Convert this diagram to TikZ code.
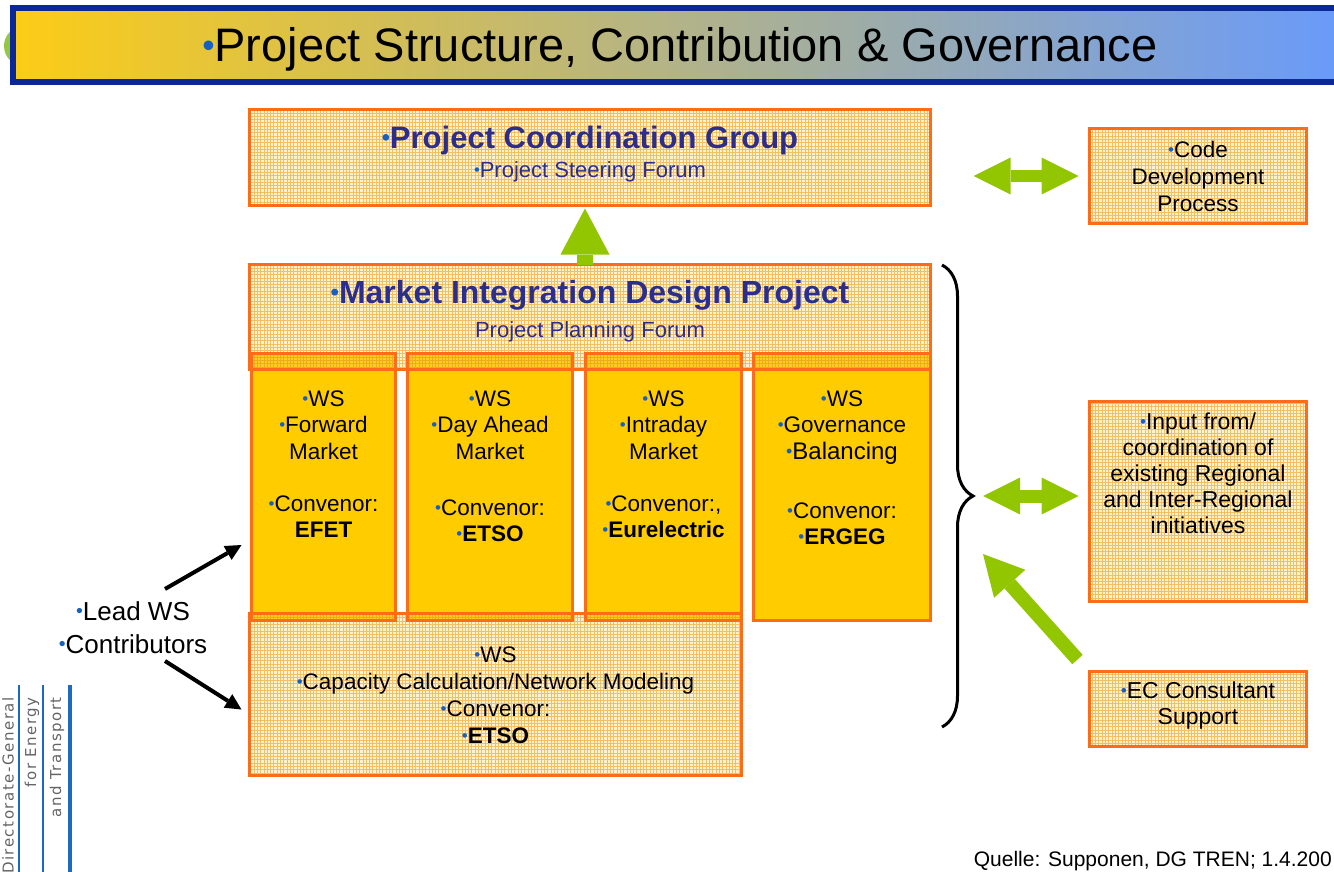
\documentclass[tikz,border=0pt]{standalone}
\usepackage{fontspec}
\usepackage{graphicx}
\setmainfont{Liberation Sans}
\newfontfamily\logofont[LetterSpace=10]{DejaVu Sans}
\usetikzlibrary{arrows.meta,patterns,decorations.pathreplacing,positioning}
\definecolor{boxorange}{RGB}{255,108,24}
\definecolor{wsyellow}{RGB}{255,204,0}
\definecolor{meshbg}{RGB}{255,242,205}
\definecolor{meshline}{RGB}{242,192,100}
\definecolor{stripbg}{RGB}{253,206,30}
\definecolor{stripline}{RGB}{236,172,30}
\definecolor{headblue}{RGB}{44,46,140}
\definecolor{bulletblue}{RGB}{24,96,190}
\definecolor{arrowgreen}{RGB}{146,198,0}
\definecolor{barblue}{RGB}{12,40,150}
\definecolor{barleft}{RGB}{252,204,22}
\definecolor{barmid}{RGB}{228,188,178}
\definecolor{barright}{RGB}{104,154,252}
\definecolor{dotgreen}{RGB}{148,200,64}
\definecolor{logoblue}{RGB}{30,105,195}
\definecolor{logogray}{RGB}{100,100,100}
\newcommand{\bdot}{{\color{bulletblue}\raisebox{0.09em}{\scalebox{0.75}{\textbullet}}}}
\pgfdeclarepatternformonly{mesh}{\pgfqpoint{-1pt}{-1pt}}{\pgfqpoint{4.3pt}{4.3pt}}{\pgfqpoint{3.3pt}{3.3pt}}{%
  \pgfsetlinewidth{0.9pt}%
  \pgfpathmoveto{\pgfqpoint{-0.5pt}{0pt}}\pgfpathlineto{\pgfqpoint{3.8pt}{0pt}}%
  \pgfpathmoveto{\pgfqpoint{0pt}{-0.5pt}}\pgfpathlineto{\pgfqpoint{0pt}{3.8pt}}%
  \pgfusepath{stroke}}
\begin{document}
\begin{tikzpicture}[x=1pt,y=-1pt,
  mesh box/.style={draw=boxorange, line width=3pt, preaction={fill=meshbg}, pattern=mesh, pattern color=meshline, inner sep=0pt, outer sep=0pt},
  ws box/.style={draw=boxorange, line width=3pt, fill=wsyellow, inner sep=0pt, outer sep=0pt},
  strip/.style={draw=boxorange, line width=3pt, preaction={fill=stripbg}, pattern=mesh, pattern color=stripline},
  txt/.style={align=center, inner sep=0pt, font=\fontsize{22.5}{26.5}\selectfont},
  gbar/.style={draw=arrowgreen, line width=#1},
  blackarrow/.style={line width=4pt, -{Triangle[length=16pt,width=16pt,line width=0pt]}},
  logo text/.style={rotate=90, anchor=east, inner sep=0pt, text=logogray, font=\logofont\fontsize{15}{15}\selectfont}]
\useasboundingbox (0,0) rectangle (1334,872);
\fill[dotgreen] (24,46) circle (20);
\shade[left color=barleft, middle color=barmid, right color=barright] (13,8) rectangle (1350,82);
\draw[barblue, line width=6pt] (13,8) rectangle (1350,82);
\node[anchor=base, inner sep=0pt, font=\fontsize{47}{50}\selectfont] (title) at (680,62) {\bdot Project Structure, Contribution \& Governance};

\node[mesh box, minimum width=681pt, minimum height=96pt] (pcg) at (590,157.5) {};
\node[anchor=base, inner sep=0pt, text=headblue, font=\fontsize{31}{36}\selectfont\bfseries] (pcgtitle) at ([yshift=-39pt]pcg.north) {\bdot Project Coordination Group};
\node[anchor=base, inner sep=0pt, text=headblue, font=\fontsize{22}{26}\selectfont] (pcgsub) at ([yshift=-68pt]pcg.north) {\bdot Project Steering Forum};

\node[mesh box, minimum width=681pt, minimum height=105pt] (midp) at (590,317) {};
\node[anchor=base, inner sep=0pt, text=headblue, font=\fontsize{32}{36}\selectfont\bfseries] (midptitle) at ([yshift=-39pt]midp.north) {\bdot Market Integration Design Project};
\node[anchor=base, inner sep=0pt, text=headblue, font=\fontsize{22}{26}\selectfont] (midpsub) at ([yshift=-73pt]midp.north) {Project Planning Forum};

\node[mesh box, minimum width=492pt, minimum height=162pt] (cap) at (495.5,694.5) {};

\node[ws box, minimum width=144pt, minimum height=267pt] (colA) at (323.5,487) {};
\node[ws box, minimum width=165pt, minimum height=267pt] (colB) at (490,487) {};
\node[ws box, minimum width=156pt, minimum height=267pt] (colC) at (663.5,487) {};
\node[ws box, minimum width=177pt, minimum height=267pt] (colD) at (842,487) {};
\foreach \c in {colA,colB,colC,colD}
  \draw[strip] (\c.north west) rectangle (\c.east |- midp.south);
\foreach \c in {colA,colB,colC}
  \draw[strip] (\c.south west) rectangle (\c.east |- cap.north);

\node[txt, below=37pt of colA.north] (wsA) {\bdot WS\\\bdot Forward\\Market\\[25.5pt]\bdot Convenor:\\\textbf{EFET}};
\node[txt, below=37pt of colB.north] (wsB) {\bdot WS\\\bdot Day Ahead\\Market\\[29.5pt]\bdot Convenor:\\\bdot\textbf{ETSO}};
\node[txt, below=37pt of colC.north] (wsC) {\bdot WS\\\bdot Intraday\\Market\\[25.5pt]\bdot Convenor:,\\\bdot\textbf{Eurelectric}};
\node[txt, below=37pt of colD.north] (wsD) {\bdot WS\\\bdot Governance\\{\fontsize{24}{26.5}\selectfont\bdot Balancing}\\[32.5pt]\bdot Convenor:\\\bdot\textbf{ERGEG}};
\node[txt, font=\fontsize{22.5}{27}\selectfont, below=33pt of cap.north] (capt) {\bdot WS\\\bdot Capacity Calculation/Network Modeling\\\bdot Convenor:\\\bdot\textbf{ETSO}};

\node[mesh box, txt, font=\fontsize{22.5}{27}\selectfont, minimum width=217pt, minimum height=95pt] (code) at (1198,176) {\bdot Code\\Development\\Process};
\node[mesh box, minimum width=217pt, minimum height=200pt] (inp) at (1198,501.5) {};
\node[txt, font=\fontsize{23}{26}\selectfont, below=11pt of inp.north] (inpt) {\bdot Input from/\\coordination of\\existing Regional\\and Inter-Regional\\initiatives};
\node[mesh box, minimum width=217pt, minimum height=75pt] (ec) at (1198,709) {};
\node[txt, font=\fontsize{23}{26}\selectfont, below=10pt of ec.north] (ect) {\bdot EC Consultant\\Support};

\coordinate (bracetop) at (942,265);
\coordinate (bracebot) at (942,727);
\coordinate (bracetip) at (973,496);
\draw[line width=3pt, decorate, decoration={brace, amplitude=31pt}] (bracetop) -- (bracebot);

\draw[gbar=16pt, -{Triangle[width=49pt,length=46pt,line width=0pt]}, shorten >=3pt] ([xshift=-5pt]midp.north) -- ([xshift=-5pt]pcg.south);
\draw[gbar=12pt, {Triangle[width=37pt,length=37pt,line width=0pt]}-{Triangle[width=37pt,length=37pt,line width=0pt]}] ([xshift=-116pt]code.west) -- ([xshift=-11pt]code.west);
\draw[gbar=13pt, {Triangle[width=37pt,length=37pt,line width=0pt]}-{Triangle[width=37pt,length=37pt,line width=0pt]}] ([xshift=10pt]bracetip) -- ([xshift=-11pt]inp.west |- bracetip);
\draw[gbar=14pt, -{Triangle[width=42pt,length=40pt,line width=0pt]}] ([shift={(-12,-12)}]ec.north west) -- ([shift={(10,58)}]bracetip);

\node[txt, anchor=north, font=\fontsize{26}{33}\selectfont] (lead) at (133,601) {\bdot Lead WS\\\bdot Contributors};
\draw[blackarrow] ([shift={(32,-12)}]lead.north) -- ([shift={(-10,58)}]colA.west);
\draw[blackarrow] ([shift={(32,60)}]lead.north) -- ([shift={(-8,15)}]cap.west);

\draw[logoblue, line width=2.5pt] (19,685) -- (19,872);
\draw[logoblue, line width=2.5pt] (43,685) -- (43,872);
\draw[logoblue, line width=4pt] (70,685) -- (70,872);
\node[logo text] (dga) at (8,697) {Directorate-General};
\node[logo text] (dgb) at (32,697) {for Energy};
\node[logo text] (dgc) at (57,697) {and Transport};

\node[anchor=base east, inner sep=0pt, font=\fontsize{21}{24}\selectfont] (src) at (1332,866) {Quelle: Supponen, DG TREN; 1.4.200};
\end{tikzpicture}
\end{document}
